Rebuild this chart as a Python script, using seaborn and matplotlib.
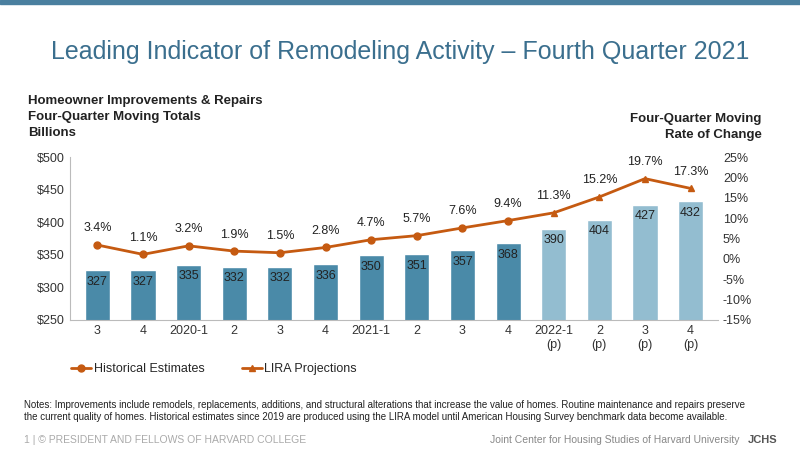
import matplotlib.pyplot as plt
import numpy as np
import pandas as pd
import seaborn as sns
from matplotlib.lines import Line2D

sns.set_style("white")
plt.rcParams['font.family'] = ['Liberation Sans', 'DejaVu Sans']

quarters = ['3', '4', '2020-1', '2', '3', '4', '2021-1', '2', '3', '4',
            '2022-1\n(p)', '2\n(p)', '3\n(p)', '4\n(p)']
spending = [327, 327, 335, 332, 332, 336, 350, 351, 357, 368, 390, 404, 427, 432]
rate = [3.4, 1.1, 3.2, 1.9, 1.5, 2.8, 4.7, 5.7, 7.6, 9.4, 11.3, 15.2, 19.7, 17.3]
kind = ['hist'] * 10 + ['proj'] * 4

DARK = '#4a8aa8'
LIGHT = '#93bdd0'
ORANGE = '#c55a11'

df = pd.DataFrame({'q': range(len(quarters)), 'spend': spending, 'rate': rate, 'kind': kind})

fig = plt.figure(figsize=(8, 4.5), dpi=100)
ax = fig.add_axes([0.0875, 0.289, 0.81, 0.362])

sns.barplot(data=df, x='q', y='spend', hue='kind', palette={'hist': DARK, 'proj': LIGHT},
            dodge=False, width=0.55, saturation=1, ax=ax, legend=False)
ax.set_ylim(250, 500)
ax.set_yticks(range(250, 501, 50))
ax.set_yticklabels([f'${v}' for v in range(250, 501, 50)], fontsize=9)
ax.set_xticks(range(len(quarters)))
ax.set_xticklabels(quarters, fontsize=9)
ax.set_xlabel('')
ax.set_ylabel('')
for i, v in enumerate(spending):
    ax.text(i, v - 18, str(v), ha='center', va='center', fontsize=9, color='#222222')
for s in ['top', 'right']:
    ax.spines[s].set_visible(False)
ax.spines['left'].set_color('#bbbbbb')
ax.spines['bottom'].set_color('#bbbbbb')
ax.tick_params(axis='both', length=0, colors='#333333')

ax2 = ax.twinx()
ax2.plot(df['q'], df['rate'], color=ORANGE, lw=2, zorder=3)
h = df[df.kind == 'hist']
p = df[df.kind == 'proj']
ax2.plot(h['q'], h['rate'], 'o', color=ORANGE, ms=5)
ax2.plot(p['q'], p['rate'], '^', color=ORANGE, ms=5)
ax2.set_ylim(-15, 25)
ax2.set_yticks(range(-15, 26, 5))
ax2.set_yticklabels([f'{v}%' for v in range(-15, 26, 5)], fontsize=9)
ax2.tick_params(axis='y', length=0, colors='#333333')
for s in ['top', 'left', 'right', 'bottom']:
    ax2.spines[s].set_visible(False)
for i, r in enumerate(rate):
    ax2.text(i, r + 2.6, f'{r}%', ha='center', va='bottom', fontsize=9, color='#222222')
ax.set_xlim(-0.6, len(quarters) - 0.4)

handles = [Line2D([], [], color=ORANGE, lw=2, marker='o', ms=5),
           Line2D([], [], color=ORANGE, lw=2, marker='^', ms=5)]
fig.legend(handles, ['Historical Estimates', 'LIRA Projections'], loc='center left',
           bbox_to_anchor=(0.075, 0.18), ncol=2, frameon=False, fontsize=9,
           handlelength=1.6, handletextpad=0.2, columnspacing=3)

fig.patches.append(plt.Rectangle((0, 0.992), 1, 0.008, transform=fig.transFigure, color='#4a7f9f'))
fig.text(0.5, 0.885, 'Leading Indicator of Remodeling Activity \u2013 Fourth Quarter 2021',
         ha='center', va='center', fontsize=18, color='#3b6f8e')
fig.text(0.035, 0.74, 'Homeowner Improvements & Repairs\nFour-Quarter Moving Totals\nBillions',
         ha='left', va='center', fontsize=9.5, fontweight='bold', color='#222222', linespacing=1.4)
fig.text(0.952, 0.718, 'Four-Quarter Moving\nRate of Change', ha='right', va='center',
         fontsize=9.5, fontweight='bold', color='#222222', linespacing=1.4)
fig.text(0.03, 0.087, 'Notes: Improvements include remodels, replacements, additions, and structural alterations '
         'that increase the value of homes. Routine maintenance and repairs preserve\nthe current quality of homes. '
         'Historical estimates since 2019 are produced using the LIRA model until American Housing Survey '
         'benchmark data become available.', ha='left', va='center', fontsize=7, color='#222222', linespacing=1.3)
fig.text(0.03, 0.022, '1 | \u00a9 PRESIDENT AND FELLOWS OF HARVARD COLLEGE', ha='left', va='center',
         fontsize=7.5, color='#aaaaaa')
fig.text(0.925, 0.022, 'Joint Center for Housing Studies of Harvard University', ha='right', va='center',
         fontsize=7.5, color='#888888')
fig.text(0.935, 0.022, 'JCHS', ha='left', va='center', fontsize=8, fontweight='bold', color='#555555')

fig.savefig('out.png', dpi=100)
